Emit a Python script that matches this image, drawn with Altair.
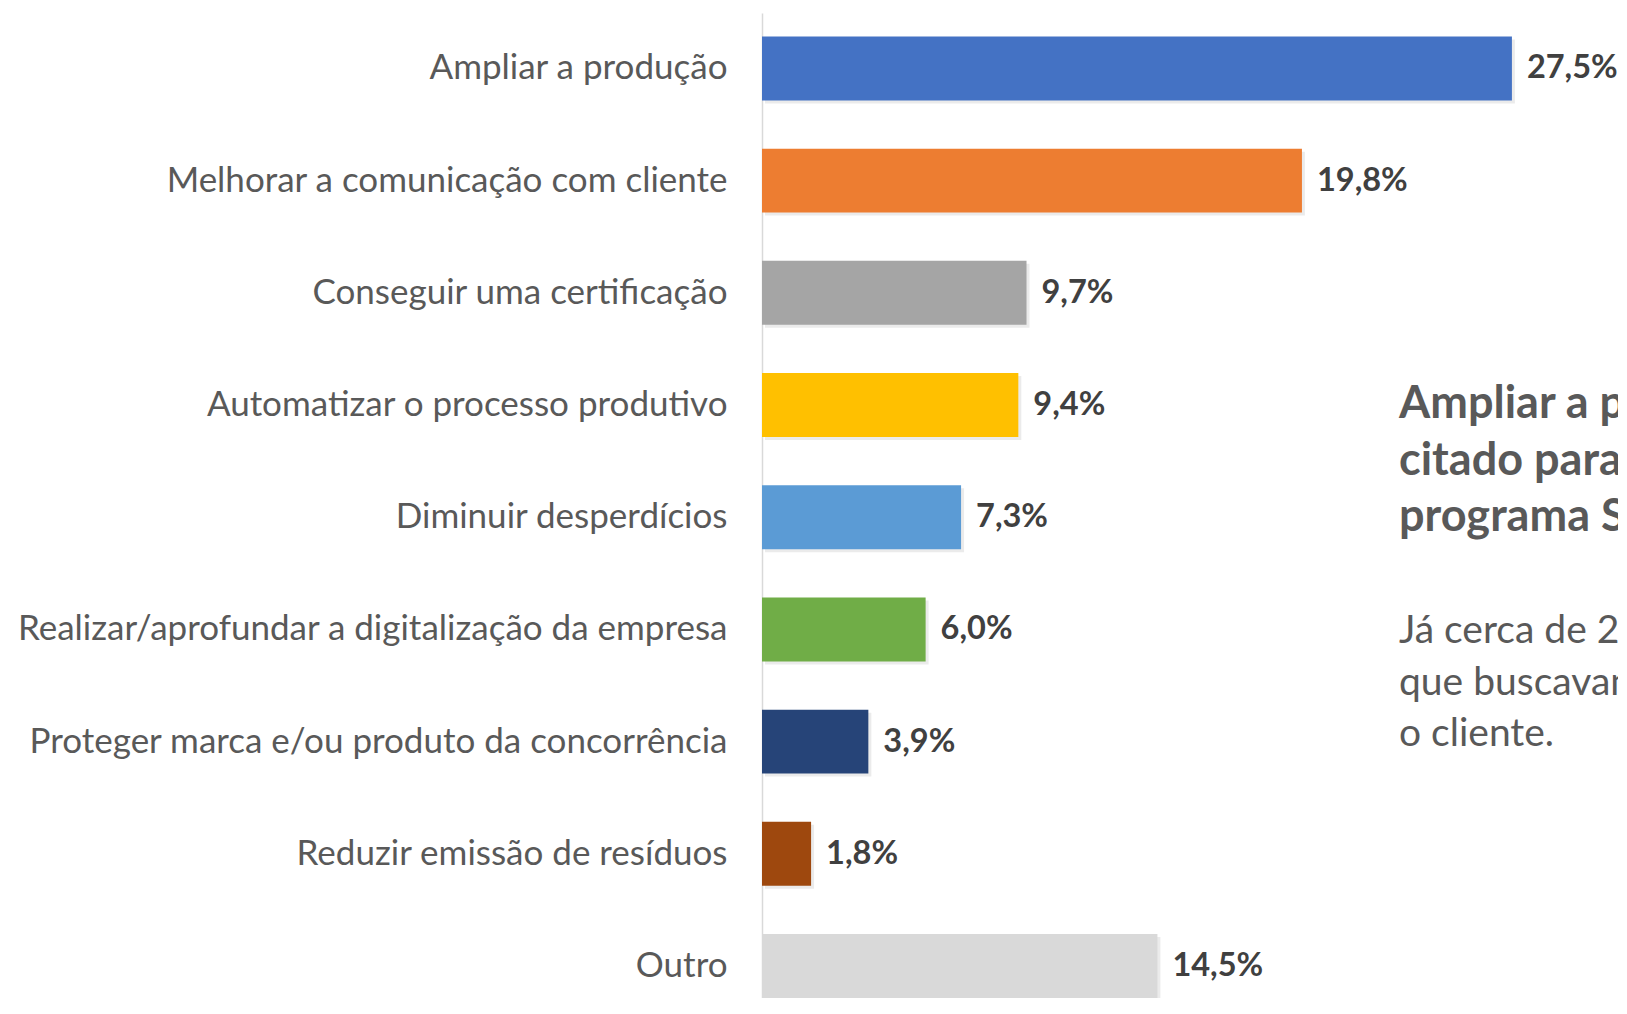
import altair as alt
import pandas as pd

categories = [
    "Ampliar a produção",
    "Melhorar a comunicação com cliente",
    "Conseguir uma certificação",
    "Automatizar o processo produtivo",
    "Diminuir desperdícios",
    "Realizar/aprofundar a digitalização da empresa",
    "Proteger marca e/ou produto da concorrência",
    "Reduzir emissão de resíduos",
    "Outro",
]
values = [27.5, 19.8, 9.7, 9.4, 7.3, 6.0, 3.9, 1.8, 14.5]
colors = ["#4472C4", "#ED7D31", "#A5A5A5", "#FFC000", "#5B9BD5",
          "#70AD47", "#264478", "#9E480E", "#D9D9D9"]

headline_lines = [
    "Ampliar a produção foi o motivo mais",
    "citado para a participação no",
    "programa SEBRAETEC.",
]
body_lines = [
    "Já cerca de 20% das empresas",
    "que buscavam melhorar a comunicação com",
    "o cliente.",
]

FONT = "Lato"

df = pd.DataFrame({"categoria": categories, "valor": values, "cor": colors})

y_enc = alt.Y(
    "categoria:N",
    sort=categories,
    scale=alt.Scale(paddingInner=0.43, paddingOuter=0.1045, align=1),
    axis=alt.Axis(
        title=None,
        ticks=False,
        labelPadding=35,
        labelFont=FONT,
        labelFontSize=35,
        labelColor="#595959",
        labelLimit=900,
        domainColor="#D9D9D9",
        domainWidth=1.5,
        grid=False,
    ),
)
x_enc = alt.X("valor:Q", scale=alt.Scale(domain=[0, 31.39], nice=False), axis=None)

base = alt.Chart(df).encode(x=x_enc, y=y_enc)

shadow = base.mark_bar(color="#000000", opacity=0.08, xOffset=3, yOffset=3)
bars = base.mark_bar().encode(color=alt.Color("cor:N", scale=None))
labels = base.mark_text(
    align="left", baseline="middle", dx=15, font=FONT, fontSize=32.5,
    fontWeight="bold", color="#404040",
).transform_calculate(
    rotulo="replace(format(datum.valor, '.1f'), '.', ',') + '%'"
).encode(text="rotulo:N")

headline = alt.Chart(pd.DataFrame({"t": ["\n".join(headline_lines)]})).mark_text(
    align="left", baseline="alphabetic", font=FONT, fontSize=45, fontWeight="bold",
    color="#595959", lineBreak="\n", lineHeight=56.5,
).encode(text="t:N", x=alt.value(637), y=alt.value(405))

body = alt.Chart(pd.DataFrame({"t": ["\n".join(body_lines)]})).mark_text(
    align="left", baseline="alphabetic", font=FONT, fontSize=39,
    color="#595959", lineBreak="\n", lineHeight=51.5,
).encode(text="t:N", x=alt.value(637), y=alt.value(630))

chart = alt.layer(shadow, bars, labels, headline, body).properties(
    width=856,
    height=985,
    autosize=alt.AutoSizeParams(type="none"),
    padding={"left": 754, "top": 5, "right": 0, "bottom": 0},
).configure_view(stroke=None)

chart.save("out.html", embed_options={"renderer": "svg", "actions": False})
